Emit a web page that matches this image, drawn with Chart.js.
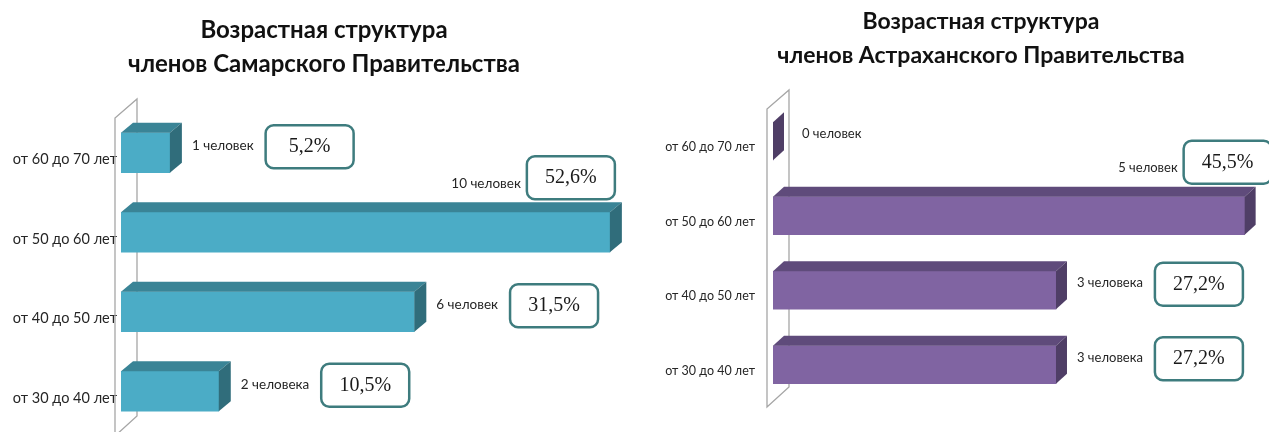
<!DOCTYPE html>
<html>
<head>
<meta charset="utf-8">
<script src="https://cdn.jsdelivr.net/npm/chart.js@4.4.1/dist/chart.umd.min.js"></script>
<style>
  html, body { margin: 0; padding: 0; background: #fff; overflow: hidden; width: 1269px; height: 432px; }
  #samara { position: absolute; left: 0; top: 0; }
  #astrakhan { position: absolute; left: 640px; top: 0; }
</style>
</head>
<body>
<canvas id="samara" width="648" height="432"></canvas>
<canvas id="astrakhan" width="682" height="432"></canvas>
<script>
const categories = ["от 60 до 70 лет", "от 50 до 60 лет", "от 40 до 50 лет", "от 30 до 40 лет"];

const samaraTitle = ["Возрастная структура", "членов Самарского Правительства"];
const samaraCounts = [1, 10, 6, 2];
const samaraPeople = ["1 человек", "10 человек", "6 человек", "2 человека"];
const samaraShares = ["5,2%", "52,6%", "31,5%", "10,5%"];

const astrakhanTitle = ["Возрастная структура", "членов Астраханского Правительства"];
const astrakhanCounts = [0, 5, 3, 3];
const astrakhanPeople = ["0 человек", "5 человек", "3 человека", "3 человека"];
const astrakhanShares = ["", "45,5%", "27,2%", "27,2%"];

// draws the back wall, the 3d faces of the bars and the labels
const bar3d = {
  id: "bar3d",
  beforeDatasetsDraw(chart, args, opts) {
    const { ctx, chartArea } = chart;
    const x0 = chartArea.left - 6;
    const top = chartArea.top + 5;
    const bottom = chartArea.bottom + 5;
    ctx.save();
    ctx.strokeStyle = "#a6a6a6";
    ctx.lineWidth = 1.3;
    ctx.beginPath();
    ctx.moveTo(x0, bottom);
    ctx.lineTo(x0, top);
    ctx.lineTo(x0 + 22, top - 19);
    ctx.lineTo(x0 + 22, bottom - 20);
    ctx.closePath();
    ctx.stroke();
    ctx.restore();
  },
  afterDatasetsDraw(chart, args, opts) {
    const { ctx } = chart;
    const dx = opts.dx, dy = opts.dy;
    ctx.save();
    chart.getDatasetMeta(0).data.forEach((bar, i) => {
      const x0 = bar.base, x1 = bar.x;
      const t = bar.y - bar.height / 2, b = bar.y + bar.height / 2;
      ctx.fillStyle = opts.topColor;
      ctx.beginPath();
      ctx.moveTo(x0, t);
      ctx.lineTo(x0 + dx, t - dy);
      ctx.lineTo(x1 + dx, t - dy);
      ctx.lineTo(x1, t);
      ctx.closePath();
      ctx.fill();
      ctx.fillStyle = opts.sideColor;
      ctx.beginPath();
      ctx.moveTo(x1, t);
      ctx.lineTo(x1 + dx, t - dy);
      ctx.lineTo(x1 + dx, b - dy);
      ctx.lineTo(x1, b);
      ctx.closePath();
      ctx.fill();

      // count label + share box
      const sideEnd = x1 + dx;
      const label = opts.people[i];
      const share = opts.shares[i];
      ctx.font = opts.labelSize + "px Lato";
      const w = ctx.measureText(label).width;
      const boxW = 88, boxH = 43;
      let lx, ly, bx, bcy;
      if (sideEnd + 10 + w + 12 + boxW <= chart.width) {
        lx = sideEnd + (x1 === x0 ? 18 : 10);
        ly = bar.y - 7;
        bx = lx + w + 12;
        bcy = bar.y - 6;
      } else {
        const topY = t - dy;
        bx = sideEnd + opts.aboveShift - boxW;
        bcy = topY - 3 - boxH / 2;
        lx = bx - 6 - w;
        ly = topY - 19;
      }
      ctx.fillStyle = "#262626";
      ctx.textAlign = "left";
      ctx.textBaseline = "middle";
      ctx.fillText(label, lx, ly);
      if (share) {
        ctx.beginPath();
        ctx.roundRect(bx, bcy - boxH / 2, boxW, boxH, 8);
        ctx.fillStyle = "#fff";
        ctx.fill();
        ctx.strokeStyle = "#3e7c7e";
        ctx.lineWidth = 2.5;
        ctx.stroke();
        ctx.fillStyle = "#1a1a1a";
        ctx.font = "20px 'Liberation Serif'";
        ctx.textAlign = "center";
        ctx.fillText(share, bx + boxW / 2, bcy);
      }
    });
    ctx.restore();
  }
};

function makeChart(id, title, counts, people, shares, look) {
  return new Chart(document.getElementById(id), {
    type: "bar",
    data: {
      labels: categories,
      datasets: [{
        data: counts,
        backgroundColor: look.front,
        borderWidth: 0,
        barThickness: look.thickness,
      }],
    },
    options: {
      indexAxis: "y",
      responsive: false,
      animation: false,
      layout: { padding: { left: 0, right: 0, bottom: look.padBottom } },
      scales: {
        // max is a bit past the biggest bar so the bars end where they do in the picture
        x: { display: false, min: 0, max: look.max },
        y: {
          grid: { display: false, drawTicks: false },
          border: { display: false },
          ticks: {
            color: "#262626",
            font: { family: "Lato", size: look.tickSize },
            padding: look.tickPad,
            labelOffset: look.labelOffset,
          },
          afterFit: (scale) => {
            scale.width = look.axisWidth;
            scale.paddingTop = 0;
            scale.paddingBottom = 0;
          },
        },
      },
      plugins: {
        legend: { display: false },
        tooltip: { enabled: false },
        title: {
          display: true,
          text: title,
          color: "#111",
          font: { family: "Lato", weight: "bold", size: look.titleSize, lineHeight: "34px" },
          padding: { top: look.titleTop, bottom: look.titleBottom },
        },
        bar3d: {
          dx: look.dx,
          dy: look.dy,
          topColor: look.top,
          sideColor: look.side,
          people: people,
          shares: shares,
          aboveShift: look.aboveShift,
          labelSize: look.labelSize,
        },
      },
    },
    plugins: [bar3d],
  });
}

makeChart("samara", samaraTitle, samaraCounts, samaraPeople, samaraShares, {
  front: "#4bacc6", top: "#3a8496", side: "#306d7b",
  thickness: 40, max: 10.78, dx: 12, dy: 10, aboveShift: -7,
  padBottom: 1, axisWidth: 121, tickSize: 14.5, labelSize: 13.5,
  tickPad: 4, labelOffset: 7, titleSize: 24, titleTop: 13, titleBottom: 32,
});

makeChart("astrakhan", astrakhanTitle, astrakhanCounts, astrakhanPeople, astrakhanShares, {
  front: "#8064a2", top: "#5f4b7b", side: "#4f3e66",
  thickness: 38, max: 5.82, dx: 11, dy: 10, aboveShift: 16,
  padBottom: 30, axisWidth: 133, tickSize: 12.5, labelSize: 13,
  tickPad: 18, labelOffset: 6, titleSize: 23, titleTop: 5, titleBottom: 31,
});
</script>
</body>
</html>
